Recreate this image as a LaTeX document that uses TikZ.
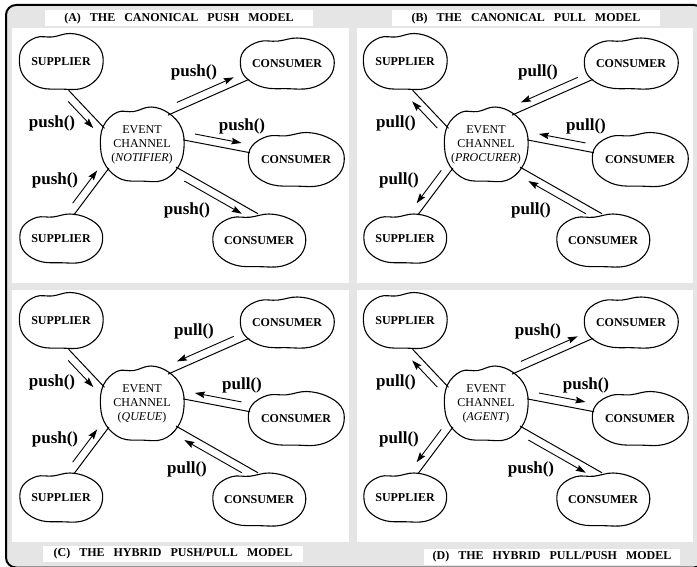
\documentclass[tikz,border=0pt]{standalone}
\usepackage{fontspec}
\setmainfont{Liberation Serif}
\usetikzlibrary{shapes.geometric,arrows.meta,calc}

\definecolor{framegray}{gray}{0.9}
\newcommand{\wgap}{\hspace{9pt}}

\tikzset{
  party/.style={ellipse, inner xsep=-6pt, inner ysep=0pt, font=\bfseries\fontsize{12}{14}\selectfont},
  chan/.style={ellipse, inner xsep=-12pt, inner ysep=0pt, align=center, font=\fontsize{12}{14}\selectfont},
  outline/.style={line width=1.1pt},
  wire/.style={line width=1pt},
  callline/.style={line width=0.9pt},
  fwd/.style={-{Stealth[length=10pt,width=6.5pt,inset=1.5pt]}},
  back/.style={{Stealth[length=10pt,width=6.5pt,inset=1.5pt]}-},
  callname/.style={font=\bfseries\fontsize{17}{17}\selectfont, inner sep=0pt},
  heading/.style={fill=white, minimum height=16pt, inner sep=0pt, font=\bfseries\fontsize{12}{14}\selectfont},
}

% cloud shaped party: style, name, x, y, half width, half height, text
\newcommand{\cloud}[7][party]{%
  \node[#1, minimum width=2*#5, minimum height=2*#6] (#2) at (#3,#4) {#7};
  \draw[outline, shift={(#3,#4)}, xscale=#5, yscale=#6] plot[smooth cycle, tension=0.65]
    coordinates {(-1,0.05) (-0.93,-0.5) (-0.6,-0.86) (-0.2,-0.88) (0.22,-1) (0.64,-0.84)
                 (0.95,-0.45) (1.01,0.1) (0.86,0.6) (0.5,0.93) (0,0.95) (-0.5,0.9) (-0.87,0.55)};
}

% connection with the call arrow beside it: from, to, side, arrow
\newcommand{\callpair}[4]{%
  \draw[wire] (#1) -- (#2);
  \draw[callline, #4] ($(#1)!.15!(#2)!#3!90:(#2)$) -- ($(#1)!.85!(#2)!#3!-90:(#1)$);
}

% one model: id, x shift, y shift, role, supplier arrow, supplier call, consumer arrow, consumer call
\newcommand{\channelpanel}[8]{%
  \begin{scope}[shift={(#2,#3)}]
    \cloud{s1#1}{61}{62}{41.5}{28.5}{SUPPLIER}
    \cloud{s2#1}{61}{239}{41}{25}{SUPPLIER}
    \cloud{c1#1}{287}{64}{46.5}{26}{CONSUMER}
    \cloud{c2#1}{296}{160}{47.5}{27.5}{CONSUMER}
    \cloud{c3#1}{259}{241}{46}{27}{CONSUMER}
    \cloud[chan]{ec#1}{142}{145}{41.5}{38}{EVENT\\CHANNEL\\(\textit{#4})}

    \callpair{s1#1.-75}{ec#1.156}{-8pt}{#5}
    \callpair{s2#1.62}{ec#1.215}{8pt}{#5}
    \callpair{ec#1.49}{c1#1.202}{8pt}{#7}
    \callpair{ec#1.7}{c2#1.171}{8pt}{#7}
    \callpair{ec#1.-33}{c3#1.92}{-8pt}{#7}

    \node[callname] (n1#1) at (52,123) {#6};
    \node[callname] (n2#1) at (55,180) {#6};
    \node[callname] (n3#1) at (194,72) {#8};
    \node[callname] (n4#1) at (242,126) {#8};
    \node[callname] (n5#1) at (187,210) {#8};
  \end{scope}
}

\begin{document}
\begin{tikzpicture}[x=1pt, y=-1pt]
\useasboundingbox (0,0) rectangle (697,567);
\clip (0,0) rectangle (697,567);

% frame and panels
\draw[line width=2pt, rounded corners=10pt, fill=framegray] (6,5) rectangle (704,567.5);
\fill[white] (12,28) rectangle (349,283);
\fill[white] (357,28) rectangle (693,283);
\fill[white] (12,290) rectangle (349,542);
\fill[white] (357,290) rectangle (693,542);

% titles
\node[heading, minimum width=268pt] (ttla) at (179,18.5) {(A)\wgap THE\wgap CANONICAL\wgap PUSH\wgap MODEL};
\node[heading, minimum width=268pt] (ttlb) at (526,18.5) {(B)\wgap THE\wgap CANONICAL\wgap PULL\wgap MODEL};
\node[heading, minimum width=260pt] (ttlc) at (173,554) {(C)\wgap THE\wgap HYBRID\wgap PUSH/PULL\wgap MODEL};
\node[heading, minimum width=256pt] (ttld) at (552,557) {(D)\wgap THE\wgap HYBRID\wgap PULL/PUSH\wgap MODEL};

% the four models
\channelpanel{a}{0}{0}{NOTIFIER}{fwd}{push()}{fwd}{push()}
\channelpanel{b}{344}{0}{PROCURER}{back}{pull()}{back}{pull()}
\channelpanel{c}{0}{259}{QUEUE}{fwd}{push()}{back}{pull()}
\channelpanel{d}{344}{259}{AGENT}{back}{pull()}{fwd}{push()}

\end{tikzpicture}
\end{document}
